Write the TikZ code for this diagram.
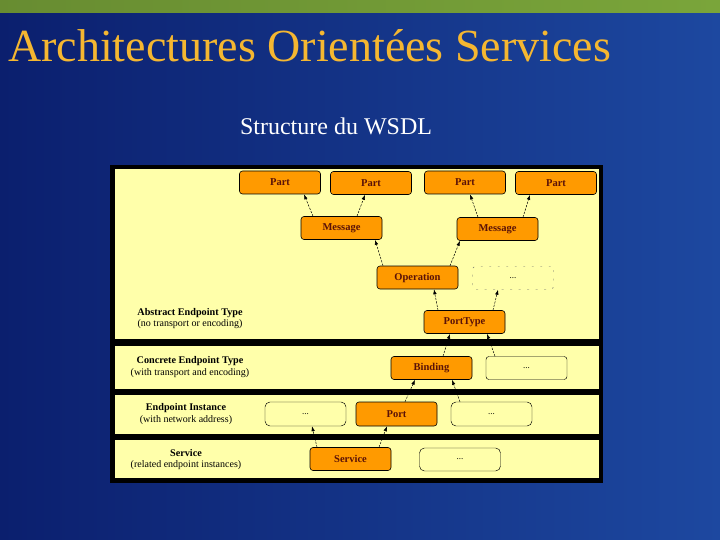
\documentclass[tikz,border=0pt]{standalone}
\usepackage{fontspec}
\setmainfont{Liberation Serif}
\usetikzlibrary{arrows.meta}
\definecolor{wsdlNavy}{HTML}{0B1F6E}
\definecolor{wsdlBlue}{HTML}{1D48A0}
\definecolor{wsdlGreen}{HTML}{7AA53A}
\definecolor{wsdlGold}{HTML}{F5B731}
\definecolor{wsdlPaper}{HTML}{FFFFAA}
\definecolor{wsdlOrange}{HTML}{FF9A00}
\definecolor{wsdlInk}{HTML}{5A1208}
\tikzset{
  wsdl slide/.style={x=1pt, y=-1pt, line cap=round, line join=round},
  wsdl box/.style={draw=black, fill=wsdlOrange, line width=0.6pt,
    rounded corners=3pt, minimum width=81pt, minimum height=23pt, inner sep=0pt,
    font=\fontsize{10.5}{11}\selectfont\bfseries, text=wsdlInk},
  wsdl blank/.style={wsdl box, fill=none, line width=0.45pt,
    font=\fontsize{9}{10}\selectfont, text=black},
  wsdl ghost/.style={wsdl blank, draw=black!60, dash pattern=on 1.5pt off 7pt},
  wsdl arrow/.style={-{Latex[length=5pt,width=3.5pt]}, draw=black,
    line width=0.5pt, dash pattern=on 2pt off 1.5pt},
  wsdl layer/.style={font=\fontsize{10.2}{11}\selectfont\bfseries, text=black},
  wsdl note/.style={font=\fontsize{10}{11}\selectfont, text=black}
}

\begin{document}
\begin{tikzpicture}[wsdl slide]
\useasboundingbox (0,0) rectangle (720,540);
% slide background
\fill[left color=wsdlNavy, right color=wsdlBlue] (0,0) rectangle (720,540);
\fill[left color=wsdlGreen!85!black, right color=wsdlGreen] (0,0) rectangle (720,13);
\node[anchor=base west, text=wsdlGold, font=\fontsize{46}{46}\selectfont, inner sep=0pt]
  (title) at (8,62) {Architectures Orientées Services};
\node[anchor=base, text=white, font=\fontsize{24}{24}\selectfont, inner sep=0pt]
  (subtitle) at (336,135) {Structure du WSDL};
% frame and layers
\fill[black] (110,165) rectangle (603,483);
\foreach \top/\bot in {169/339,346/389,395/434,440/478}
  \fill[wsdlPaper] (115,\top) rectangle (599,\bot);
% abstract part
\node[wsdl box] (part1) at (280,182.5) {Part};
\node[wsdl box] (part2) at (371,183) {Part};
\node[wsdl box] (part3) at (465,182.5) {Part};
\node[wsdl box] (part4) at (556,183) {Part};
\node[wsdl box] (msg1) at (341.5,228) {Message};
\node[wsdl box] (msg2) at (497.5,229) {Message};
\node[wsdl box] (oper) at (417.5,277.5) {Operation};
\node[wsdl ghost] (opdots) at (513,278) {...};
\node[wsdl box] (porttype) at (464.5,322) {PortType};
% concrete part
\node[wsdl box] (binding) at (431.5,368) {Binding};
\node[wsdl blank] (binddots) at (526.5,368) {...};
\node[wsdl blank, rounded corners=5pt, minimum height=24pt] (instL) at (305.5,414) {...};
\node[wsdl box, minimum height=24pt] (port) at (396.5,414) {Port};
\node[wsdl blank, rounded corners=5pt, minimum height=24pt] (instR) at (491.5,414) {...};
\node[wsdl box] (service) at (350.5,459) {Service};
\node[wsdl blank, rounded corners=5pt] (svcdots) at (460,459.5) {...};
% layer captions
\node[wsdl layer] (abstract) at (190,313) {Abstract Endpoint Type};
\node[wsdl note] (abstractnote) at (190,324) {(no transport or encoding)};
\node[wsdl layer] (concrete) at (190,361) {Concrete Endpoint Type};
\node[wsdl note] (concretenote) at (190,373) {(with transport and encoding)};
\node[wsdl layer] (instance) at (186,408) {Endpoint Instance};
\node[wsdl note] (instancenote) at (186,420) {(with network address)};
\node[wsdl layer] (servicelayer) at (186,453) {Service};
\node[wsdl note] (servicenote) at (186,465) {(related endpoint instances)};
% references between elements
\foreach \src/\sx/\dst/\dx in {msg1/-28.5/part1/24, msg1/15.5/part2/-6,
    msg2/-19.5/part3/5, msg2/25.5/part4/-26, oper/-34.5/msg1/33.5,
    oper/32.5/msg2/-37.5, porttype/-26.5/oper/16.5, porttype/28.5/opdots/-15,
    binding/11.5/porttype/-14.5, binddots/-31.5/porttype/22.5,
    port/8.5/binding/-16.5, instR/-31.5/binding/20.5,
    service/-33.5/instL/6.5, service/28.5/port/-9.5}
  \draw[wsdl arrow] ([xshift=\sx pt]\src.north) -- ([xshift=\dx pt]\dst.south);
\end{tikzpicture}
\end{document}
